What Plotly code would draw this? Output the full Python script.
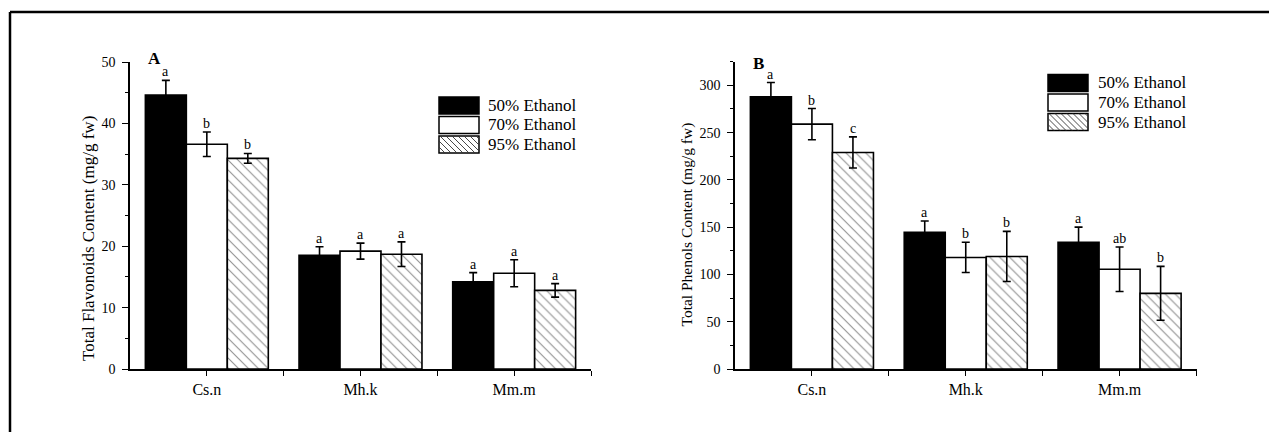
import plotly.graph_objects as go

W, H = 1277, 432
OFF = 8  # default page body margin
FW, FH = W - OFF, H - OFF

# ---------------- data ----------------
categories = ["Cs.n", "Mh.k", "Mm.m"]
series_names = ["50% Ethanol", "70% Ethanol", "95% Ethanol"]

flav_50 = [44.6, 18.5, 14.2]
flav_70 = [36.6, 19.2, 15.6]
flav_95 = [34.3, 18.7, 12.8]
flav_50_err = [2.4, 1.4, 1.5]
flav_70_err = [2.0, 1.3, 2.2]
flav_95_err = [0.8, 2.0, 1.1]
flav_50_sig = ["a", "a", "a"]
flav_70_sig = ["b", "a", "a"]
flav_95_sig = ["b", "a", "a"]

phen_50 = [288, 144.5, 134]
phen_70 = [259, 118, 105.5]
phen_95 = [229, 119, 80]
phen_50_err = [15, 12, 16]
phen_70_err = [16.5, 16, 23.5]
phen_95_err = [16.5, 26.5, 28.5]
phen_50_sig = ["a", "a", "a"]
phen_70_sig = ["b", "b", "ab"]
phen_95_sig = ["c", "b", "b"]

flav_ticks = [0, 10, 20, 30, 40, 50]
phen_ticks = [0, 50, 100, 150, 200, 250, 300]

flav_title = "Total Flavonoids Content (mg/g fw)"
phen_title = "Total Phenols Content (mg/g fw)"

# ---------------- styling ----------------
FONT = "Liberation Serif"
BARGAP = 0.2
BAR_W = (1 - BARGAP) / 3
xpos = list(range(len(categories)))


def px_x(p):
    return (p - OFF) / FW


def px_y(p):
    return 1 - (p - OFF) / FH


styles = [
    dict(color="black", pattern=None),
    dict(color="white", pattern=None),
    dict(color="white", pattern=dict(shape="\\", fgcolor="#222", bgcolor="white", size=7, solidity=0.16)),
]

fig = go.Figure()


def add_panel(vals, errs, sigs, xa, ya):
    for k, (v, e, s) in enumerate(zip(vals, errs, sigs)):
        st = styles[k]
        marker = dict(color=st["color"], line=dict(color="black", width=1.6))
        if st["pattern"]:
            marker["pattern"] = st["pattern"]
        fig.add_trace(go.Bar(
            x=xpos, y=v, name=series_names[k], marker=marker,
            error_y=dict(type="data", array=e, color="black", thickness=1.6, width=4),
            xaxis=xa, yaxis=ya, showlegend=False, offsetgroup=str(k),
        ))
        for i in range(len(v)):
            fig.add_annotation(
                x=xpos[i] + (k - 1) * BAR_W, y=v[i] + e[i], text=s[i],
                xref=xa, yref=ya, showarrow=False, yanchor="bottom", yshift=-1,
                font=dict(family=FONT, size=14, color="black"),
            )


add_panel([flav_50, flav_70, flav_95], [flav_50_err, flav_70_err, flav_95_err],
          [flav_50_sig, flav_70_sig, flav_95_sig], "x", "y")
add_panel([phen_50, phen_70, phen_95], [phen_50_err, phen_70_err, phen_95_err],
          [phen_50_sig, phen_70_sig, phen_95_sig], "x2", "y2")

tickfont = dict(family=FONT, size=14, color="black")


def xaxis_cfg(d0, d1, anchor):
    return dict(
        domain=[px_x(d0), px_x(d1)], anchor=anchor, range=[-0.5, 2.5], automargin=False,
        tickvals=xpos, ticktext=categories, ticks="outside", ticklen=5, tickwidth=1.3,
        tickcolor="black", showline=True, linecolor="black", linewidth=1.6,
        showgrid=False, zeroline=False, tickfont=dict(family=FONT, size=16, color="black"),
        ticklabelstandoff=0,
        minor=dict(tickvals=[0.5, 1.5, 2.5], ticks="outside", ticklen=5, tickwidth=1.3, tickcolor="black"),
    )


def yaxis_cfg(rng, ticks, minor_dt, anchor, top):
    return dict(
        domain=[px_y(369), px_y(top)], anchor=anchor, range=rng, automargin=False,
        tickvals=ticks, ticks="outside", ticklen=6, tickwidth=1.3, tickcolor="black",
        showline=True, linecolor="black", linewidth=1.6, showgrid=False, zeroline=False,
        tickfont=tickfont, ticklabelstandoff=4,
        minor=dict(dtick=minor_dt, tick0=0, ticks="outside", ticklen=3, tickwidth=1.3, tickcolor="black"),
    )


fig.update_layout(
    width=FW, height=FH, margin=dict(l=0, r=0, t=0, b=0, pad=0, autoexpand=False),
    paper_bgcolor="white", plot_bgcolor="rgba(0,0,0,0)",
    barmode="group", bargap=BARGAP, bargroupgap=0,
    xaxis=xaxis_cfg(130, 591, "y"),
    yaxis=yaxis_cfg([0, 50], flav_ticks, 5, "x", 62),
    xaxis2=xaxis_cfg(735, 1196.5, "y2"),
    yaxis2=yaxis_cfg([0, 325], phen_ticks, 25, "x2", 61.7),
)

# y-axis titles
fig.add_annotation(x=px_x(88), y=px_y(238), xref="paper", yref="paper", text=flav_title,
                   textangle=-90, showarrow=False, xanchor="center", yanchor="middle",
                   font=dict(family=FONT, size=17, color="black"))
fig.add_annotation(x=px_x(686.5), y=px_y(225), xref="paper", yref="paper", text=phen_title,
                   textangle=-90, showarrow=False, xanchor="center", yanchor="middle",
                   font=dict(family=FONT, size=15.5, color="black"))

# panel letters
fig.add_annotation(x=px_x(154), y=px_y(58), xref="paper", yref="paper", text="<b>A</b>",
                   showarrow=False, xanchor="center", yanchor="middle",
                   font=dict(family=FONT, size=17, color="black"))
fig.add_annotation(x=px_x(758), y=px_y(64), xref="paper", yref="paper", text="<b>B</b>",
                   showarrow=False, xanchor="center", yanchor="middle",
                   font=dict(family=FONT, size=17, color="black"))

# outer frame (top and left lines)
fig.add_shape(type="line", xref="paper", yref="paper", x0=px_x(10), x1=px_x(W + 5),
              y0=px_y(12), y1=px_y(12), line=dict(color="black", width=2.5))
fig.add_shape(type="line", xref="paper", yref="paper", x0=px_x(10), x1=px_x(10),
              y0=px_y(12), y1=px_y(H + 5), line=dict(color="black", width=2.5))


# legends drawn as boxes + text
def add_legend(bx0, bx1, tops, tx):
    bh = 17
    for k, top in enumerate(tops):
        y0, y1 = top, top + bh
        fill = "black" if k == 0 else "white"
        fig.add_shape(type="rect", xref="paper", yref="paper",
                      x0=px_x(bx0), x1=px_x(bx1), y0=px_y(y1), y1=px_y(y0),
                      fillcolor=fill, line=dict(color="black", width=1.5))
        if k == 2:
            path = ""
            step = 6
            c = -bh
            while c < (bx1 - bx0):
                xa_, ya_ = bx0 + c, y0
                xb_, yb_ = bx0 + c + bh, y1
                if xa_ < bx0:
                    ya_ = ya_ + (bx0 - xa_)
                    xa_ = bx0
                if xb_ > bx1:
                    yb_ = yb_ - (xb_ - bx1)
                    xb_ = bx1
                if xa_ < xb_:
                    path += f"M{px_x(xa_)},{px_y(ya_)} L{px_x(xb_)},{px_y(yb_)} "
                c += step
            fig.add_shape(type="path", xref="paper", yref="paper", path=path,
                          line=dict(color="#333", width=0.9))
        fig.add_annotation(x=px_x(tx), y=px_y(top + bh / 2), xref="paper", yref="paper",
                           text=series_names[k], showarrow=False, xanchor="left", yanchor="middle",
                           font=dict(family=FONT, size=17, color="black"))


add_legend(439, 479, [97, 116.5, 136], 486)
add_legend(1048, 1088, [74.5, 94, 113.5], 1096)

fig.write_html("out.html")
